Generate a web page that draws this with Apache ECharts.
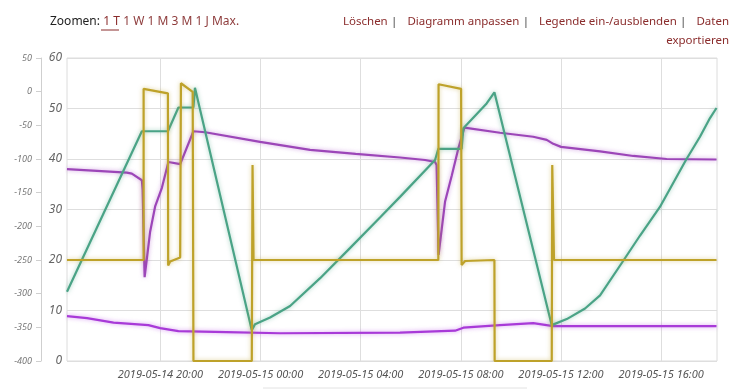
<!DOCTYPE html>
<html><head><meta charset="utf-8">
<script src="https://cdn.jsdelivr.net/npm/echarts@6/dist/echarts.min.js"></script>
<style>html,body{margin:0;padding:0;background:#fff}#c{width:749px;height:390px}</style>
</head><body><div id="c"></div>
<script>
// Time is given in hours since 2019-05-14 00:00
const xMin = 16.27, xMax = 42.23;
const tickHours = [20, 24, 28, 32, 36, 40];
const tickLabels = ['2019-05-14 20:00', '2019-05-15 00:00', '2019-05-15 04:00', '2019-05-15 08:00', '2019-05-15 12:00', '2019-05-15 16:00'];

const greenTime = [16.27,19.26,20.30,20.72,21.32,21.38,23.65,23.78,24.38,25.18,26.38,27.58,28.77,29.57,30.97,31.10,32.03,32.10,33.03,33.34,35.63,36.23,36.96,37.56,38.48,39.15,39.95,40.99,41.55,41.95,42.21];
const greenValues = [13.7,45.5,45.5,50.2,50.2,54.1,6.1,7.3,8.6,10.9,16.4,22.4,28.4,32.5,39.8,42.0,42.0,46.1,51.0,53.2,7.1,8.3,10.4,13.0,19.8,24.8,30.5,39.8,44.4,48.1,50.1];

const purpleHighTime = [16.27,18.66,18.86,19.26,19.29,19.37,19.59,19.79,20.06,20.32,20.79,21.32,21.79,23.98,25.98,27.80,29.57,30.57,30.97,31.03,31.11,31.37,31.64,31.90,32.14,33.56,34.89,35.43,35.69,36.00,37.56,38.89,40.22,42.21];
const purpleHighValues = [38.0,37.3,37.1,35.8,33.9,16.6,25.6,30.6,34.3,39.4,39.0,45.5,45.3,43.4,41.8,41.0,40.3,39.8,39.4,38.8,21.0,31.6,36.8,42.1,46.2,45.2,44.4,43.8,43.0,42.4,41.5,40.6,40.0,39.9];

const purpleLowTime = [16.27,17.07,18.13,19.52,19.99,20.72,22.65,24.78,29.57,31.77,32.10,33.56,34.89,35.69,42.21];
const purpleLowValues = [8.9,8.5,7.6,7.1,6.5,5.9,5.7,5.5,5.6,6.0,6.6,7.1,7.5,6.9,6.9];

const yellowTime = [16.27,19.33,19.33,20.30,20.31,20.39,20.79,20.82,21.29,21.32,23.65,23.68,23.72,31.10,31.11,32.01,32.03,32.17,33.34,33.35,35.63,35.65,35.72,42.21];
const yellowValues = [20,20,53.9,53.0,18.9,19.7,20.5,55.0,53.3,0,0,38.8,20,20,54.8,53.9,19.0,19.8,20,0,0,38.8,20,20];

function pairs(t, v) { return t.map((x, i) => [x, v[i]]); }
function lineSeries(name, t, v, color, glow) {
  return {
    name, type: 'line', data: pairs(t, v), showSymbol: false, symbol: 'none',
    lineStyle: { color, width: 2.2, shadowBlur: 4, shadowColor: glow },
    itemStyle: { color }
  };
}

const chart = echarts.init(document.getElementById('c'), null, { renderer: 'canvas' });
chart.setOption({
  animation: false,
  grid: { left: 67, right: 32, top: 58, bottom: 29, show: true, borderColor: '#dcdcdc', borderWidth: 1, outerBoundsMode: 'none' },
  xAxis: {
    type: 'value', min: xMin, max: xMax,
    axisLine: { show: false },
    axisTick: { show: false, customValues: tickHours },
    splitLine: { show: true, lineStyle: { color: '#dedede', width: 1 } },
    axisLabel: {
      customValues: tickHours, margin: 8,
      fontFamily: 'Noto Sans', fontStyle: 'italic', fontSize: 11, color: '#555',
      formatter: v => tickLabels[tickHours.indexOf(Math.round(v))] || ''
    }
  },
  yAxis: [
    {
      type: 'value', min: 0, max: 60, interval: 10, position: 'left',
      axisLine: { show: false }, axisTick: { show: false },
      splitLine: { show: true, lineStyle: { color: '#dedede', width: 1 } },
      axisLabel: { margin: 5, fontFamily: 'Noto Sans', fontStyle: 'italic', fontSize: 12, color: '#666' }
    },
    {
      type: 'value', min: -400, max: 50, interval: 50, position: 'left', offset: 26,
      axisLine: { show: true, lineStyle: { color: '#cfcfcf' } },
      axisTick: { show: true, length: 5, lineStyle: { color: '#cfcfcf' } },
      splitLine: { show: false },
      axisLabel: { margin: 9, fontFamily: 'Noto Sans', fontStyle: 'italic', fontSize: 9, color: '#777' }
    }
  ],
  series: [
    lineSeries('Vorlauf', purpleHighTime, purpleHighValues, '#9c46b8', 'rgba(170,80,200,0.55)'),
    lineSeries('Außen', purpleLowTime, purpleLowValues, '#a83ad8', 'rgba(180,70,230,0.55)'),
    lineSeries('Speicher', greenTime, greenValues, '#4aa386', 'rgba(70,163,132,0.5)'),
    lineSeries('Status', yellowTime, yellowValues, '#bea22a', 'rgba(190,162,42,0.5)')
  ],
  graphic: [
    {
      type: 'text', x: 50, y: 22,
      style: {
        text: '{z|Zoomen:} {a|1 T} {b|1 W 1 M 3 M 1 J Max.}',
        verticalAlign: 'middle', align: 'left',
        rich: {
          z: { fontFamily: 'Noto Sans', fontSize: 12, fill: '#222' },
          a: { fontFamily: 'Noto Sans', fontSize: 12, fill: '#8a2c2c' },
          b: { fontFamily: 'Noto Sans', fontSize: 12, fill: '#8e3c3c' }
        }
      }
    },
    { type: 'line', shape: { x1: 101, y1: 30, x2: 119, y2: 30 }, style: { stroke: '#8a2c2c', lineWidth: 1 } },
    {
      type: 'text', x: 729, y: 22,
      style: {
        text: '{a|Löschen} {s||}   {a|Diagramm anpassen} {s||}   {a|Legende ein-/ausblenden} {s||}   {a|Daten}',
        verticalAlign: 'middle', align: 'right',
        rich: {
          a: { fontFamily: 'Noto Sans', fontSize: 11.5, fill: '#8a2c2c' },
          s: { fontFamily: 'Noto Sans', fontSize: 11.5, fill: '#444' }
        }
      }
    },
    {
      type: 'text', x: 729, y: 41,
      style: { text: 'exportieren', verticalAlign: 'middle', align: 'right', font: '11.5px "Noto Sans"', fill: '#8a2c2c' }
    },
    { type: 'line', shape: { x1: 263, y1: 388, x2: 527, y2: 388 }, style: { stroke: '#e2e2e2', lineWidth: 1 } }
  ]
});
</script>
</body></html>
